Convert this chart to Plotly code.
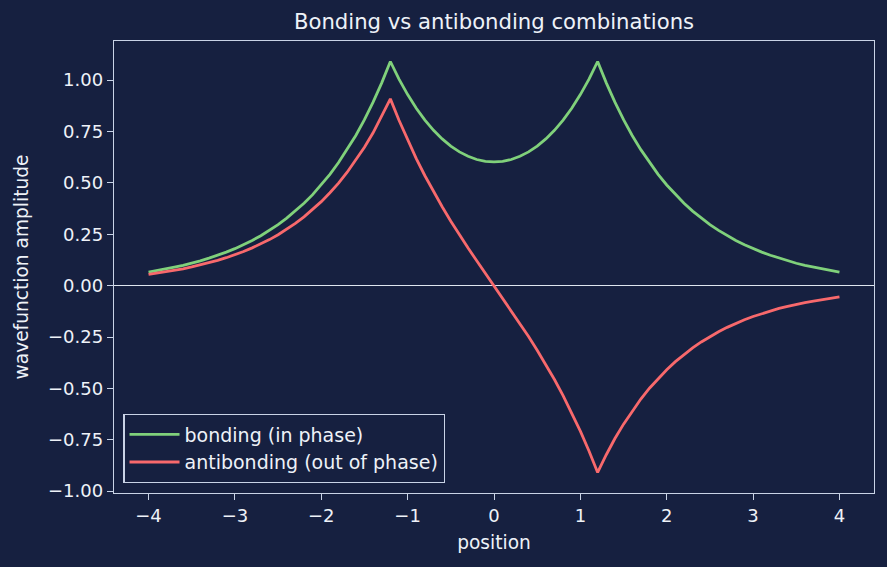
import plotly.graph_objects as go

position = [round(-4.0 + 0.1 * i, 1) for i in range(81)]

bonding = [0.066, 0.073, 0.081, 0.090, 0.099, 0.109, 0.121, 0.134, 0.148, 0.163,
           0.180, 0.199, 0.220, 0.243, 0.269, 0.297, 0.329, 0.363, 0.401, 0.443,
           0.490, 0.542, 0.599, 0.662, 0.731, 0.808, 0.893, 0.987, 1.091, 1.005,
           0.930, 0.863, 0.806, 0.756, 0.714, 0.679, 0.651, 0.630, 0.614, 0.605,
           0.602, 0.605, 0.614, 0.630, 0.651, 0.679, 0.714, 0.756, 0.806, 0.863,
           0.930, 1.005, 1.091, 0.987, 0.893, 0.808, 0.731, 0.662, 0.599, 0.542,
           0.490, 0.443, 0.401, 0.363, 0.329, 0.297, 0.269, 0.243, 0.220, 0.199,
           0.180, 0.163, 0.148, 0.134, 0.121, 0.109, 0.099, 0.090, 0.081, 0.073,
           0.066]
antibonding = [0.055, 0.061, 0.068, 0.075, 0.082, 0.091, 0.101, 0.111, 0.123, 0.136,
               0.150, 0.166, 0.184, 0.203, 0.224, 0.248, 0.274, 0.303, 0.335, 0.370,
               0.409, 0.452, 0.499, 0.552, 0.610, 0.674, 0.744, 0.823, 0.909, 0.805,
               0.708, 0.618, 0.535, 0.457, 0.384, 0.314, 0.247, 0.183, 0.121, 0.060,
               0.000, -0.060, -0.121, -0.183, -0.247, -0.314, -0.384, -0.457, -0.535, -0.618,
               -0.708, -0.805, -0.909, -0.823, -0.744, -0.674, -0.610, -0.552, -0.499, -0.452,
               -0.409, -0.370, -0.335, -0.303, -0.274, -0.248, -0.224, -0.203, -0.184, -0.166,
               -0.150, -0.136, -0.123, -0.111, -0.101, -0.091, -0.082, -0.075, -0.068, -0.061,
               -0.055]

x_ticks = [-4, -3, -2, -1, 0, 1, 2, 3, 4]
y_ticks = [-1.00, -0.75, -0.50, -0.25, 0.00, 0.25, 0.50, 0.75, 1.00]

BG = "#162040"
FG = "#c9d3e6"
TXT = "#eef2f8"
FONT = "DejaVu Sans"

fig = go.Figure()
fig.add_trace(go.Scatter(x=position, y=bonding, mode="lines", name="bonding (in phase)",
                         line=dict(color="#80d17b", width=2.8)))
fig.add_trace(go.Scatter(x=position, y=antibonding, mode="lines", name="antibonding (out of phase)",
                         line=dict(color="#f8696c", width=2.8)))

axis_common = dict(showline=True, mirror=True, linecolor=FG, linewidth=1.4,
                   ticks="outside", ticklen=6, tickwidth=1.4, tickcolor=FG,
                   showgrid=False, tickfont=dict(family=FONT, size=18, color=TXT))

fig.update_layout(
    width=887, height=567,
    paper_bgcolor=BG, plot_bgcolor=BG,
    margin=dict(l=114, r=13, t=41, b=74),
    font=dict(family=FONT, size=18, color=TXT),
    title=dict(text="Bonding vs antibonding combinations", x=0.5, xref="paper",
               xanchor="center", y=1 - 22 / 567, yref="container", yanchor="middle",
               font=dict(family=FONT, size=21.2, color=TXT)),
    xaxis=dict(range=[-4.4, 4.4], tickvals=x_ticks, zeroline=False,
               title=dict(text="position", font=dict(family=FONT, size=18.6, color=TXT), standoff=11),
               **axis_common),
    yaxis=dict(range=[-1.0091, 1.1907], tickvals=y_ticks, tickformat=".2f",
               zeroline=True, zerolinecolor="#dfe5ef", zerolinewidth=1.4,
               title=dict(text="wavefunction amplitude", font=dict(family=FONT, size=18.6, color=TXT), standoff=14),
               **axis_common),
    legend=dict(x=0.012, y=0.022, xanchor="left", yanchor="bottom",
                bgcolor=BG, bordercolor=FG, borderwidth=1.4, itemwidth=50,
                font=dict(family=FONT, size=19, color=TXT)),
    showlegend=True,
)

fig.write_html("out.html")
